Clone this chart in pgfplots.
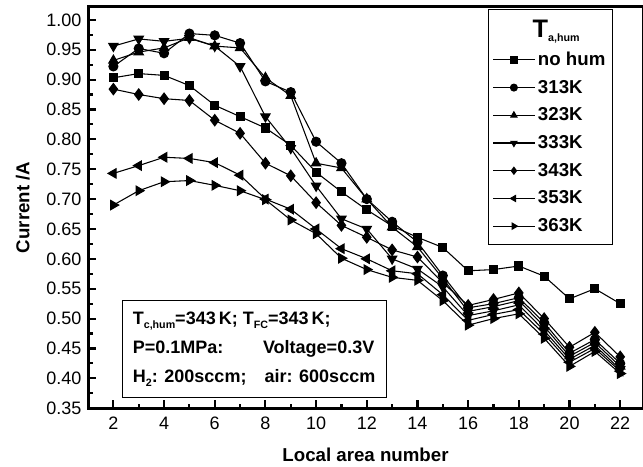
\documentclass[border=0pt]{standalone}
\usepackage{fontspec}
\setmainfont{Liberation Sans}
\usepackage{pgfplots}
\usepackage{pgfplotstable}
\pgfplotsset{compat=1.18}

\pgfplotstableread{
x  nohum k313  k323  k333  k343  k353  k363
2  0.903 0.922 0.932 0.956 0.884 0.743 0.690
3  0.910 0.952 0.946 0.968 0.875 0.756 0.714
4  0.907 0.944 0.953 0.964 0.868 0.770 0.729
5  0.890 0.977 0.970 0.969 0.865 0.768 0.731
6  0.857 0.974 0.956 0.956 0.832 0.761 0.723
7  0.838 0.961 0.953 0.922 0.810 0.740 0.714
8  0.819 0.897 0.903 0.838 0.760 0.700 0.699
9  0.790 0.879 0.873 0.785 0.739 0.683 0.665
10 0.745 0.796 0.760 0.722 0.694 0.650 0.642
11 0.712 0.760 0.752 0.667 0.656 0.617 0.601
12 0.682 0.700 0.700 0.650 0.636 0.600 0.582
13 0.655 0.662 0.653 0.600 0.615 0.580 0.569
14 0.636 0.628 0.620 0.583 0.603 0.575 0.564
15 0.619 0.572 0.567 0.553 0.560 0.540 0.530
16 0.580 0.518 0.512 0.505 0.522 0.497 0.489
17 0.582 0.525 0.520 0.513 0.532 0.507 0.500
18 0.588 0.535 0.530 0.523 0.543 0.515 0.508
19 0.571 0.493 0.487 0.480 0.500 0.474 0.467
20 0.533 0.442 0.437 0.432 0.452 0.427 0.420
21 0.550 0.465 0.460 0.455 0.477 0.450 0.445
22 0.525 0.425 0.420 0.415 0.436 0.412 0.408
}\datatable

\newcommand{\subs}[1]{\raisebox{-0.45ex}{\fontsize{8}{9}\selectfont #1}}

\begin{document}
\begin{tikzpicture}
\begin{axis}[
  scale only axis, width=416pt, height=301pt,
  xmin=1, xmax=22.9, ymin=0.35, ymax=1.022,
  xtick={2,4,...,22}, minor x tick num=1,
  ytick={0.35,0.40,0.45,0.50,0.55,0.60,0.65,0.70,0.75,0.80,0.85,0.90,0.95,1.00},
  minor y tick num=1,
  tick align=inside, xtick pos=bottom, ytick pos=left,
  major tick length=6pt, minor tick length=3.5pt,
  every tick/.style={black, line width=1.6pt},
  axis line style={line width=2.2pt},
  tick label style={font=\fontsize{13.5}{15}\selectfont},
  xticklabel shift=3pt, yticklabel shift=1.5pt,
  /pgf/number format/assume math mode=true,
  yticklabel style={/pgf/number format/.cd, fixed, fixed zerofill, precision=2, assume math mode=true},
  legend style={at={(rel axis cs:0.945,0.995)}, anchor=north east, draw=black, line width=0.6pt,
    font=\fontsize{14}{16}\selectfont\bfseries, row sep=5.5pt, inner xsep=3pt, inner ysep=6pt},
  legend cell align=left,
  every legend image post/.style={mark size=2.6pt},
  legend image code/.code={\draw[mark repeat=2,mark phase=2] plot coordinates {(0cm,0cm) (0.55cm,0cm) (1.1cm,0cm)};},
]
\addlegendimage{empty legend}
\addlegendentry{\hspace*{-4pt}{\fontsize{19}{20}\selectfont T}\subs{a,hum}}

\addplot[black, line width=0.8pt, mark=square*, mark size=3pt, mark options={solid, fill=black}] table[x=x,y=nohum] {\datatable};
\addlegendentry{no hum}
\addplot[black, line width=0.8pt, mark=*, mark size=3.4pt, mark options={solid, fill=black}] table[x=x,y=k313] {\datatable};
\addlegendentry{313K}
\addplot[black, line width=0.8pt, mark=triangle*, mark size=4pt, mark options={solid, fill=black}] table[x=x,y=k323] {\datatable};
\addlegendentry{323K}
\addplot[black, line width=0.8pt, mark=triangle*, mark size=4pt, mark options={solid, fill=black, rotate=180}] table[x=x,y=k333] {\datatable};
\addlegendentry{333K}
\addplot[black, line width=0.8pt, mark=diamond*, mark size=4.2pt, mark options={solid, fill=black}] table[x=x,y=k343] {\datatable};
\addlegendentry{343K}
\addplot[black, line width=0.8pt, mark=triangle*, mark size=4pt, mark options={solid, fill=black, rotate=90}] table[x=x,y=k353] {\datatable};
\addlegendentry{353K}
\addplot[black, line width=0.8pt, mark=triangle*, mark size=4pt, mark options={solid, fill=black, rotate=-90}] table[x=x,y=k363] {\datatable};
\addlegendentry{363K}

\node[draw, line width=0.6pt, anchor=south west, align=left, inner xsep=8pt, inner ysep=8pt,
  font=\fontsize{13.5}{22}\selectfont\bfseries] at (axis cs:2.33,0.367)
  {T\subs{c,hum}=343\,K; T\subs{FC}=343\,K;\\
   P=0.1MPa:\hspace{2.2em}Voltage=0.3V\\
   H\subs{2}: 200sccm;\hspace{1em}air: 600sccm};
\end{axis}
\node[rotate=90, font=\fontsize{14}{16}\selectfont\bfseries] at ([xshift=-49pt]current axis.west) {Current /A};
\node[font=\fontsize{14}{16}\selectfont\bfseries] at ([yshift=-35pt]current axis.south) {Local area number};
\path (current axis.south west) ++(-66pt,-43.5pt) coordinate (bl);
\path (current axis.north east) ++(0pt,5pt) coordinate (tr);
\pgfresetboundingbox
\path[use as bounding box] (bl) rectangle (tr);
\end{tikzpicture}
\end{document}
